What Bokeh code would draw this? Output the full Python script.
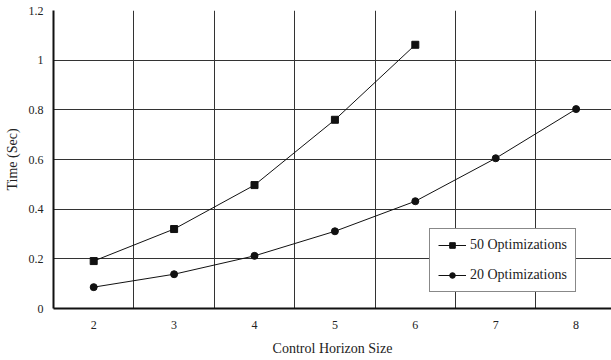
from bokeh.plotting import figure
from bokeh.models import FixedTicker, Legend, LegendItem, Range1d
from bokeh.embed import file_html
from bokeh.resources import INLINE

horizon_50 = [2, 3, 4, 5, 6]
time_50 = [0.191, 0.320, 0.497, 0.760, 1.062]
horizon_20 = [2, 3, 4, 5, 6, 7, 8]
time_20 = [0.086, 0.138, 0.212, 0.311, 0.432, 0.605, 0.803]
x_ticks = [2, 3, 4, 5, 6, 7, 8]
y_ticks = [0, 0.2, 0.4, 0.6, 0.8, 1.0, 1.2]
y_labels = ["0", "0.2", "0.4", "0.6", "0.8", "1", "1.2"]

FONT = "Liberation Serif"
INK = "#111111"

p = figure(width=611, height=360, output_backend="svg", toolbar_location=None,
           x_range=Range1d(1.5, 8.44), y_range=Range1d(0, 1.2),
           min_border_left=53, min_border_right=0, min_border_top=10, min_border_bottom=52)
p.background_fill_color = "white"
p.border_fill_color = "white"
p.outline_line_color = None

# axes
p.xaxis.ticker = FixedTicker(ticks=x_ticks)
p.yaxis.ticker = FixedTicker(ticks=y_ticks)
p.yaxis.major_label_overrides = {t: l for t, l in zip(y_ticks, y_labels)}
for ax in (p.xaxis, p.yaxis):
    ax.major_tick_in = 0
    ax.major_tick_out = 0
    ax.minor_tick_in = 0
    ax.minor_tick_out = 0
    ax.axis_line_color = INK
    ax.axis_line_width = 2
    ax.major_label_text_font = FONT
    ax.major_label_text_font_size = "12px"
    ax.major_label_text_color = "#222222"
    ax.axis_label_text_font = FONT
    ax.axis_label_text_font_size = "14px"
    ax.axis_label_text_font_style = "normal"
    ax.axis_label_text_color = "#222222"
p.xaxis.axis_label = "Control Horizon Size"
p.yaxis.axis_label = "Time (Sec)"
p.xaxis.major_label_standoff = 12
p.yaxis.major_label_standoff = 10
p.xaxis.axis_label_standoff = 9
p.yaxis.axis_label_standoff = 6

# grid
p.xgrid.ticker = FixedTicker(ticks=[t + 0.5 for t in x_ticks])
p.ygrid.ticker = FixedTicker(ticks=y_ticks[1:])
for g in (p.xgrid, p.ygrid):
    g.grid_line_color = "#333333"
    g.grid_line_width = 1
    g.grid_line_alpha = 1

# series
l50 = p.line(horizon_50, time_50, line_color=INK, line_width=1)
m50 = p.scatter(horizon_50, time_50, marker="square", size=7, fill_color=INK, line_color=INK)
l20 = p.line(horizon_20, time_20, line_color=INK, line_width=1)
m20 = p.scatter(horizon_20, time_20, marker="circle", size=7, fill_color=INK, line_color=INK)

legend = Legend(items=[LegendItem(label="50 Optimizations", renderers=[l50, m50]),
                       LegendItem(label="20 Optimizations", renderers=[l20, m20])],
                location=(376, 16), orientation="vertical")
legend.label_text_font = FONT
legend.label_text_font_size = "14px"
legend.label_text_color = "#222222"
legend.border_line_color = INK
legend.border_line_width = 1
legend.background_fill_color = "white"
legend.background_fill_alpha = 1
legend.padding = 8
legend.spacing = 14
legend.glyph_width = 28
legend.glyph_height = 14
legend.label_height = 14
legend.label_width = 60
legend.label_standoff = 4
legend.margin = 0
p.add_layout(legend, "center")

open("out.html", "w").write(file_html(p, INLINE))
